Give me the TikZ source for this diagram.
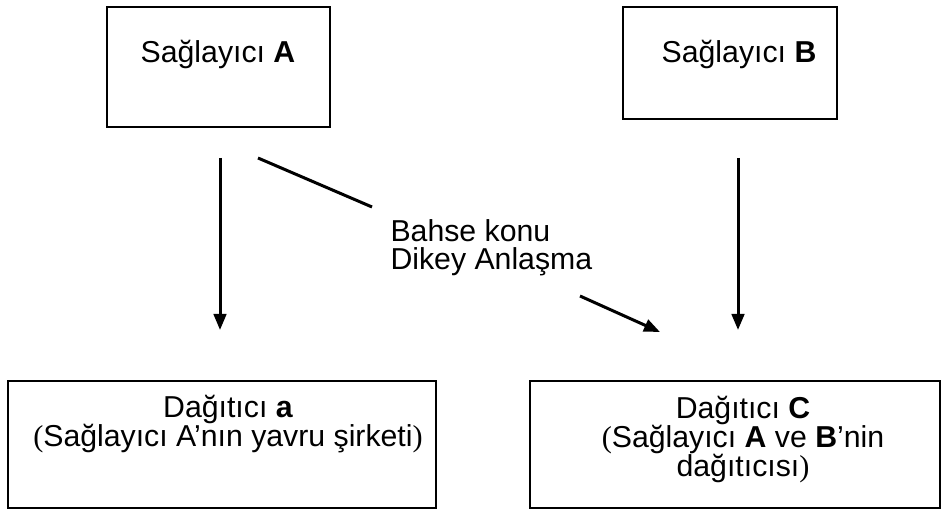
\documentclass[tikz,border=0pt]{standalone}
\usepackage{fontspec}
\setmainfont{Liberation Sans}
\newfontfamily\parfont{Liberation Serif}
\newcommand{\po}{{\parfont(}}
\newcommand{\pc}{{\parfont)}}
\usetikzlibrary{arrows.meta}

\begin{document}
\begin{tikzpicture}[x=0.4pt, y=-0.4pt, font=\fontsize{12.1}{11.6}\selectfont]

      \useasboundingbox (0,0) rectangle (944,510);

      \begin{scope}[every node/.style={draw, line width=0.8pt, inner sep=0}]
        \node[minimum width=89.2pt, minimum height=48pt]   (sA) at (218.5,67)  {};
        \node[minimum width=85.6pt, minimum height=44.8pt] (sB) at (730,63)    {};
        \node[minimum width=171.2pt, minimum height=50.8pt] (da) at (222,444.5) {};
        \node[minimum width=164pt, minimum height=50.8pt]  (dC) at (735,444.5) {};
      \end{scope}

      % multi-line texts: base = baseline of the last line
      \begin{scope}[every node/.style={inner sep=0, anchor=base}]
        \node (tA) at (218,63) {Sağlayıcı \textbf{A}};
        \node (tB) at (739,63) {Sağlayıcı \textbf{B}};
        \node[anchor=base west, align=left, font=\fontsize{12.1}{11.2}\selectfont] (tV) at (390,270) {Bahse konu\\Dikey Anlaşma};
        \node[align=center] (ta) at (228,447) {Dağıtıcı \textbf{a}\\\po Sağlayıcı A’nın yavru şirketi\pc};
        \node[align=center] (tC) at (743,477) {Dağıtıcı \textbf{C}\\\po Sağlayıcı \textbf{A} ve \textbf{B}’nin\\dağıtıcısı\pc};
      \end{scope}

      \coordinate (a1) at (220,158);
      \coordinate (a2) at (220,330);
      \coordinate (b1) at (738,158);
      \coordinate (b2) at (738,330);
      \coordinate (v1) at (258,158);
      \coordinate (v2) at (372,207);
      \coordinate (v3) at (580,296);
      \coordinate (v4) at (660,332);

      \begin{scope}[line width=1.2pt, -{Triangle[length=6.4pt, width=5pt]}]
        \draw (a1) -- (a2);
        \draw (b1) -- (b2);
        \draw[-] (v1) -- (v2);
        \draw (v3) -- (v4);
      \end{scope}

    \end{tikzpicture}
\end{document}
